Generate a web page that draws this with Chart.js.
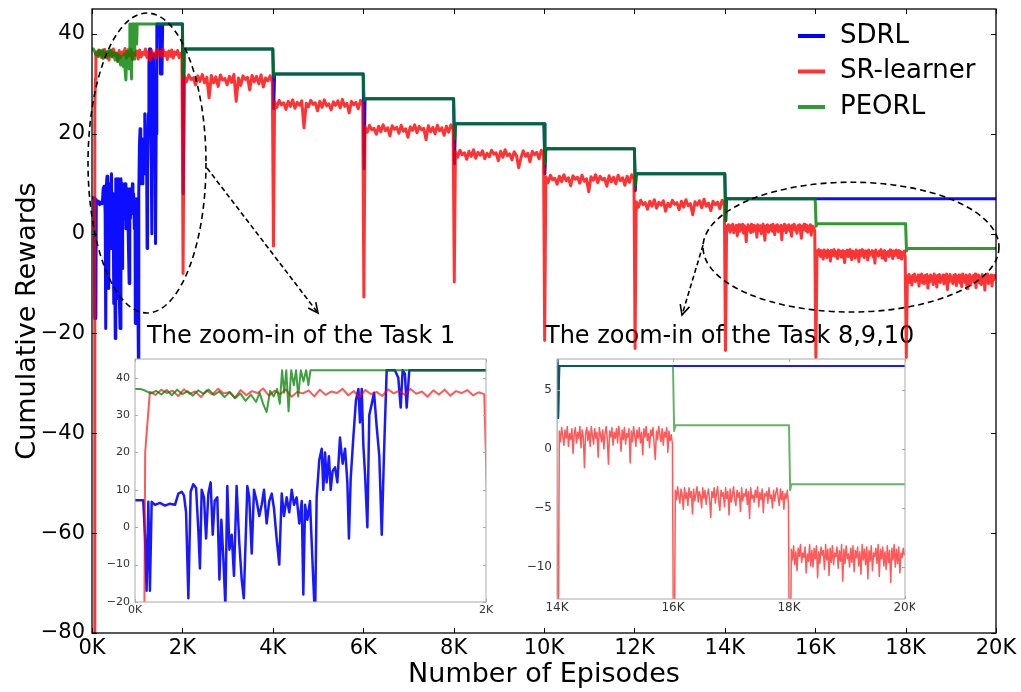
<!DOCTYPE html>
<html>
<head>
<meta charset="utf-8">
<script src="https://cdn.jsdelivr.net/npm/chart.js@4.4.0/dist/chart.umd.min.js"></script>
<style>
  html, body { margin: 0; padding: 0; background: #fff; }
  #wrap { position: relative; width: 1021px; height: 692px; }
  #wrap canvas { position: absolute; }
</style>
</head>
<body>
<div id="wrap">
  <canvas id="main" width="1021" height="692" style="left:0;top:0"></canvas>
  <canvas id="zoom1" width="400" height="265" style="left:95px;top:355px"></canvas>
  <canvas id="zoom2" width="400" height="265" style="left:515px;top:355px"></canvas>
</div>
<script>
var seriesNames = ['SDRL', 'SR-learner', 'PEORL'];

// episodes where task 2..10 start
var taskStarts = [2000, 4000, 6000, 8000, 10000, 12000, 14000, 16000, 18000];

var mainTicksX = [0, 2000, 4000, 6000, 8000, 10000, 12000, 14000, 16000, 18000, 20000];
var mainTicksY = [-80, -60, -40, -20, 0, 20, 40];
var zoom1TicksX = [0, 2000];
var zoom1TicksY = [-20, -10, 0, 10, 20, 30, 40];
var zoom2TicksX = [14000, 16000, 18000, 20000];
var zoom2TicksY = [-10, -5, 0, 5];

// SDRL during task 1 (episode / reward)
var sdrlTask1Ep = [0, 47, 57, 66, 76, 85, 95, 114, 142, 171, 199, 228, 247, 266, 279, 291, 304, 317, 332, 348,
  361, 370, 380, 393, 405, 418, 431, 443, 454, 469, 481, 492, 503, 515, 526, 538, 551, 564, 579, 594,
  608, 620, 640, 651, 665, 678, 693, 708, 722, 735, 750, 765, 779, 792, 807, 822, 836, 849, 864, 879,
  893, 906, 921, 936, 950, 959, 969, 982, 997, 1012, 1026, 1035, 1050, 1064, 1073, 1083, 1092, 1105, 1115, 1126,
  1140, 1153, 1168, 1183, 1197, 1210, 1219, 1229, 1244, 1259, 1273, 1282, 1292, 1301, 1311, 1324, 1335, 1349, 1362, 1377,
  1392, 1406, 1419, 1434, 1453, 1481, 1500, 1514, 1525, 1538, 1548, 1563, 1990];
var sdrlTask1Val = [7.2, 7.2, -2.5, -17, 6.8, -17, 6.8, 6.0, 6.5, 5.8, 6.3, 6.0, 9.0, 9.5, 8.5, 4, -19, 9.5, 11.5, 10.5,
  -1, -11, 10, 8, -3, 9, 12, -2, 7, 8, -14, 2, -8, -21, 11, -6, -2, -13, 11, -4,
  -14, -19, 11, 8, -7, 10, 7, 3, 6, 10, 1, 7, 9, 5, -3, -10, 9, 3, 8, 4,
  10, 6, 8, 1, 7, -18, 6, 2, 7, -10, -25, 8, 18, 21, 10, 20, 12, 19, 10, 15,
  16, 12, 24, 17, 21, 12, -3, 13, 24, 34, 37, 28, 37, 22, 14, 0, 30, 33, 36, 27,
  19, -2, 20, 42, 42, 42, 40, 32, 42, 41, 32, 42, 42];
var sdrlLevels = [37, 32, 27, 22, 17, 12, 7, 7, 7];
var sdrlDips = [8, 25, 13, 14, 12, 8.6, 2.6, 7, 7];

// PEORL during task 1
var peorlTask1Ep = [0, 30, 60, 90, 120, 150, 180, 210, 240, 270, 300, 330, 360, 390, 420, 450, 480, 510, 540, 570,
  600, 630, 660, 690, 710, 730, 750, 770, 790, 810, 825, 838, 850, 862, 875, 890, 905, 918, 930, 945,
  960, 975, 988, 1000, 1990];
var peorlTask1Val = [37, 37, 36.5, 35.8, 36.5, 35.5, 36.7, 35.3, 36.8, 35.6, 36.4, 35.2, 36.6, 35.7, 36.8, 35.4, 36.3, 34.8, 36.2, 34.5,
  35.8, 33.8, 35.5, 33.5, 36, 33, 30.8, 36.5, 35, 37, 33, 42, 36, 42, 31, 42, 38, 42, 35, 42,
  39, 42, 38, 42, 42];
var peorlLevels = [37, 32, 27, 22, 17, 12, 7, 2, -3];
var peorlDips = [31.5, 31.5, 26.6, 19, 14, 9.6, 2.6, 1.5, -3.5];

// SR-learner: first rise, then one noisy run per task, dips at task switches
var srStartEp = [47, 58, 66, 76];
var srStartVal = [-80, 20, 25, 31];
var srTask1 = [36.2, 35.4, 36.8, 35.9, 36.5, 35.1, 36.9, 35.7, 36.3, 34.8, 36.6, 35.5, 37.0, 35.8, 36.1, 34.6, 36.7, 35.3, 36.4, 35.9,
  37.1, 35.2, 36.5, 35.6, 36.9, 34.9, 36.2, 35.8, 36.6, 35.0, 36.8, 35.4, 36.3, 35.9, 37.0, 35.3, 36.4, 34.7, 36.7, 35.6,
  36.2, 35.1, 36.9, 35.8, 36.5, 35.4, 37.0, 35.7, 36.3, 34.9, 36.6, 35.5, 36.8, 35.2, 36.4, 35.9, 36.7, 35.3, 36.1, 35.6];
var srTask2 = [31.5, 30.4, 31.8, 30.9, 31.2, 29.8, 31.6, 30.5, 31.9, 30.2, 31.3, 27.2, 31.7, 30.2, 31.4, 29.5, 31.8, 30.8, 31.1, 29.8,
  31.5, 30.3, 31.9, 26.5, 31.2, 29.7, 31.6, 30.9, 31.3, 28.8, 31.7, 30.4, 31.5, 30.0, 31.8, 29.4, 31.2, 30.6, 31.6, 30.2];
var srTask3 = [26.4, 25.3, 26.7, 25.8, 26.2, 24.9, 26.5, 25.5, 26.8, 25.1, 26.3, 25.7, 26.6, 21.2, 26.1, 25.4, 26.7, 25.9, 26.2, 24.6,
  26.5, 25.3, 26.8, 25.6, 26.0, 24.8, 26.4, 25.7, 26.6, 25.2, 26.9, 25.5, 26.1, 24.2, 26.5, 25.8, 26.3, 25.0, 26.7, 25.6];
var srTask4 = [21.4, 20.3, 21.7, 20.8, 21.1, 19.9, 21.5, 20.4, 21.8, 20.6, 21.2, 19.6, 21.6, 20.9, 21.3, 20.1, 21.7, 20.5, 21.0, 19.3,
  21.4, 20.7, 21.8, 20.2, 21.5, 20.8, 21.1, 18.8, 21.6, 20.4, 21.3, 20.0, 21.7, 20.6, 21.2, 19.7, 21.5, 20.3, 21.8, 20.9];
var srTask5 = [16.4, 15.3, 16.7, 15.8, 16.2, 14.9, 16.5, 15.5, 16.8, 15.1, 16.3, 15.7, 16.6, 15.0, 16.1, 15.4, 16.7, 15.9, 16.2, 14.6,
  16.5, 15.3, 16.8, 15.6, 16.0, 14.8, 16.4, 15.7, 13.2, 15.2, 16.6, 15.5, 16.1, 14.4, 16.5, 15.8, 16.3, 15.0, 16.7, 15.6];
var srTask6 = [11.4, 10.2, 11.7, 10.8, 11.1, 9.9, 11.5, 10.4, 11.8, 10.6, 11.2, 9.6, 11.6, 10.9, 11.3, 10.1, 11.7, 10.5, 11.0, 8.4,
  11.4, 10.7, 11.8, 10.2, 11.5, 10.8, 11.1, 9.5, 11.6, 10.4, 11.3, 10.0, 11.7, 10.6, 11.2, 9.7, 11.5, 10.3, 11.8, 10.9];
var srTask7 = [6.4, 5.3, 6.7, 5.8, 6.2, 4.9, 6.5, 5.5, 6.8, 5.1, 6.3, 5.7, 6.6, 4.5, 6.1, 5.4, 6.7, 5.9, 6.2, 4.8,
  6.5, 5.3, 6.8, 5.6, 6.0, 3.8, 6.4, 5.7, 6.6, 5.2, 6.9, 5.5, 6.1, 4.6, 6.5, 5.8, 6.3, 5.0, 6.7, 5.6];
var srTask8 = [1.5, 0.6, 1.8, 1.1, 0.3, 1.6, 0.9, 1.9, 0.2, 1.3,
  0.8, 1.7, -0.4, 1.2, 1.8, 0.5, 1.4, 0.9, 1.9, 0.1,
  1.6, 1.0, -1.6, 1.3, 1.8, 0.7, 1.5, 0.2, 1.9, 1.1,
  0.4, 1.7, 0.9, 1.4, -0.7, 1.8, 1.2, 0.6, 1.6, 0.0,
  1.3, 1.9, 0.8, -1.3, 1.5, 1.0, 1.8, 0.3, 1.4, 0.9,
  1.7, 0.5, 1.9, 1.2, -0.2, 1.6, 0.8, 1.8, 0.4, 1.3,
  1.0, 1.7, -1.2, 1.5, 0.6, 1.9, 1.1, 0.2, 1.6, 0.9,
  1.8, 0.5, 1.4, -0.5, 1.7, 1.0, 1.9, 0.7, 1.3, 0.1,
  1.6, 1.1, 1.8, 0.4, -0.9, 1.5, 0.8, 1.9, 1.2, 0.6,
  1.7, 0.3, 1.4, 1.0, 1.8, -0.3, 1.5, 0.7, 1.2, 0.4];
var srTask9 = [-3.5, -4.3, -3.2, -4.0, -4.6, -3.4, -3.9, -5.1, -3.3, -4.2,
  -3.7, -4.8, -3.3, -4.1, -3.6, -5.5, -3.4, -4.4, -3.8, -3.2,
  -4.5, -3.6, -4.0, -5.0, -3.3, -4.2, -3.5, -4.7, -3.9, -3.4,
  -4.3, -5.8, -3.6, -4.1, -3.3, -4.6, -3.8, -3.2, -4.4, -5.2,
  -3.5, -4.0, -3.7, -4.9, -3.3, -4.2, -3.6, -5.6, -3.4, -4.5,
  -3.9, -3.2, -4.3, -4.8, -3.5, -4.1, -3.7, -5.3, -3.3, -4.4,
  -3.8, -4.0, -3.4, -4.7, -3.6, -5.9, -3.3, -4.2, -3.9, -4.5,
  -3.5, -4.1, -3.2, -4.9, -3.7, -4.3, -3.4, -5.4, -3.8, -4.0,
  -3.6, -4.6, -3.3, -4.2, -3.9, -5.0, -3.5, -4.4, -3.7, -3.3,
  -4.1, -4.8, -3.4, -4.3, -3.6, -5.1, -3.8, -4.2, -3.5, -4.6];
var srTask10 = [-8.5, -9.4, -8.2, -9.8, -8.7, -10.3, -8.4, -9.1, -8.1, -9.6,
  -8.8, -9.2, -8.3, -10.5, -8.9, -9.5, -8.1, -9.9, -8.6, -10.0,
  -8.4, -9.3, -8.2, -10.9, -8.7, -9.7, -8.3, -9.0, -8.6, -10.2,
  -8.1, -9.4, -8.5, -10.7, -8.4, -9.6, -8.2, -9.8, -8.8, -9.1,
  -8.3, -10.1, -8.6, -9.5, -8.1, -11.2, -8.5, -9.7, -8.2, -9.3,
  -8.9, -10.0, -8.4, -9.6, -8.2, -10.4, -8.6, -9.2, -8.3, -9.9,
  -8.7, -10.6, -8.1, -9.4, -8.5, -9.8, -8.3, -11.0, -8.6, -9.5,
  -8.2, -10.3, -8.8, -9.1, -8.4, -9.7, -8.1, -10.8, -8.5, -9.3,
  -8.3, -9.9, -8.7, -10.2, -8.2, -9.6, -8.6, -11.3, -8.4, -9.4,
  -8.1, -10.0, -8.5, -9.7, -8.3, -10.5, -8.8, -9.2, -8.4, -9.0];
var srDips = [-8, -2.5, -12.7, -9.7, -21.4, -23, -23.4, -24.8, -24.8];

var srTasks = [srTask1, srTask2, srTask3, srTask4, srTask5, srTask6, srTask7, srTask8, srTask9, srTask10];

function stepSeries(ep0, val0, levels, dips) {
  var pts = ep0.map(function(e, i) { return {x: e, y: val0[i]}; });
  var prev = val0[val0.length - 1];
  taskStarts.forEach(function(b, k) {
    pts.push({x: b, y: prev});
    pts.push({x: b + 20, y: dips[k]});
    pts.push({x: b + 40, y: levels[k]});
    prev = levels[k];
  });
  pts.push({x: 20000, y: prev});
  return pts;
}

function srSeries() {
  var pts = srStartEp.map(function(e, i) { return {x: e, y: srStartVal[i]}; });
  srTasks.forEach(function(vals, k) {
    var a = k === 0 ? 85 : taskStarts[k - 1] + 40;
    var b = (k === 0 ? 2000 : taskStarts[k - 1] + 2000) - 10;
    vals.forEach(function(v, i) {
      pts.push({x: a + (b - a) * i / (vals.length - 1), y: v});
    });
    if (k < taskStarts.length) pts.push({x: taskStarts[k] + 15, y: srDips[k]});
  });
  return pts;
}

var sdrlData = stepSeries(sdrlTask1Ep, sdrlTask1Val, sdrlLevels, sdrlDips);
var peorlData = stepSeries(peorlTask1Ep, peorlTask1Val, peorlLevels, peorlDips);
var srData = srSeries();

function buildDatasets(lw, alpha) {
  return [
    {label: seriesNames[0], data: sdrlData, borderColor: 'rgba(0,0,255,' + alpha[0] + ')', borderWidth: lw[0], order: 2},
    {label: seriesNames[1], data: srData, borderColor: 'rgba(255,0,0,' + alpha[1] + ')', borderWidth: lw[1], order: 1},
    {label: seriesNames[2], data: peorlData, borderColor: 'rgba(0,128,0,' + alpha[2] + ')', borderWidth: lw[2], order: 0}
  ];
}

function kLabel(v) { return (v / 1000) + 'K'; }
function numLabel(v) { return v < 0 ? '\u2212' + Math.abs(v) : '' + v; }

function framePlugin(o) {
  return {
    id: 'frame',
    beforeDraw: function(chart) {
      var a = chart.chartArea, ctx = chart.ctx;
      ctx.save();
      ctx.fillStyle = '#fff';
      ctx.fillRect(a.left, a.top, a.right - a.left, a.bottom - a.top);
      ctx.restore();
    },
    afterDatasetsDraw: function(chart) {
      var a = chart.chartArea, ctx = chart.ctx;
      var sx = chart.scales.x, sy = chart.scales.y;
      ctx.save();
      ctx.strokeStyle = o.color;
      ctx.lineWidth = 1;
      ctx.beginPath();
      sx.ticks.forEach(function(t) {
        var px = Math.round(sx.getPixelForValue(t.value)) + 0.5;
        ctx.moveTo(px, a.bottom); ctx.lineTo(px, a.bottom - o.len);
        ctx.moveTo(px, a.top); ctx.lineTo(px, a.top + o.len);
      });
      sy.ticks.forEach(function(t) {
        var py = Math.round(sy.getPixelForValue(t.value)) + 0.5;
        ctx.moveTo(a.left, py); ctx.lineTo(a.left + o.len, py);
        ctx.moveTo(a.right, py); ctx.lineTo(a.right - o.len, py);
      });
      ctx.stroke();
      ctx.lineWidth = o.width;
      ctx.strokeRect(a.left, a.top, a.right - a.left, a.bottom - a.top);
      ctx.restore();
    }
  };
}

function noEdgePadding(s) {
  s.paddingTop = 0; s.paddingBottom = 0; s.paddingLeft = 0; s.paddingRight = 0;
}

function makeChart(id, c) {
  return new Chart(document.getElementById(id), {
    type: 'line',
    data: {datasets: buildDatasets(c.lw, c.alpha)},
    options: {
      responsive: false,
      animation: false,
      events: [],
      layout: {padding: c.pad},
      plugins: {legend: {display: false}, tooltip: {enabled: false}},
      elements: {point: {radius: 0}, line: {tension: 0, borderJoinStyle: 'round', fill: false}},
      scales: {
        x: {
          type: 'linear', min: c.xMin, max: c.xMax,
          grid: {display: false, drawTicks: false}, border: {display: false},
          afterBuildTicks: function(s) { s.ticks = c.xTicks.map(function(v) { return {value: v}; }); },
          afterFit: function(s) { s.height = c.xH; noEdgePadding(s); },
          ticks: {font: {family: 'DejaVu Sans', size: c.fs}, color: c.tickColor, padding: c.xPad,
                  maxRotation: 0, autoSkip: false, callback: function(v) { return kLabel(v); }},
          title: c.xTitle
        },
        y: {
          type: 'linear', min: c.yMin, max: c.yMax,
          grid: {display: false, drawTicks: false}, border: {display: false},
          afterBuildTicks: function(s) { s.ticks = c.yTicks.map(function(v) { return {value: v}; }); },
          afterFit: function(s) { s.width = c.yW; noEdgePadding(s); },
          ticks: {font: {family: 'DejaVu Sans', size: c.fs}, color: c.tickColor, padding: c.yPad,
                  autoSkip: false, callback: function(v) { return numLabel(v); }},
          title: c.yTitle
        }
      }
    },
    plugins: [framePlugin(c.frame)].concat(c.extra || [])
  });
}

// annotation anchors in data units
var zoomTitles = [
  {text: 'The zoom-in of the Task 1', ep: 1217, val: -20.7},
  {text: 'The zoom-in of the Task 8,9,10', ep: 10022, val: -20.7}
];
var zoomRings = [
  {ep: 1217, val: 14.15, rEp: 1305, rVal: 30.05},
  {ep: 16792, val: -2.7, rEp: 3274, rVal: 13.0}
];
var zoomArrows = [
  {ep0: 2544, val0: 13.15, ep1: 5000, val1: -15.9},
  {ep0: 13518, val0: -2.3, ep1: 13053, val1: -16.3}
];
var legendColors = ['#0000ff', '#ff3333', '#339933'];

var notes = {
  id: 'notes',
  beforeDatasetsDraw: function(chart) {
    var sx = chart.scales.x, sy = chart.scales.y, ctx = chart.ctx;
    ctx.save();
    ctx.font = '24px "DejaVu Sans"';
    ctx.fillStyle = '#000';
    ctx.textBaseline = 'middle';
    zoomTitles.forEach(function(t) {
      ctx.fillText(t.text, sx.getPixelForValue(t.ep), sy.getPixelForValue(t.val));
    });
    ctx.restore();
  },
  afterDatasetsDraw: function(chart) {
    var sx = chart.scales.x, sy = chart.scales.y, ctx = chart.ctx, a = chart.chartArea;
    ctx.save();
    ctx.strokeStyle = '#000';
    ctx.lineWidth = 1.6;
    ctx.setLineDash([6, 4]);
    zoomRings.forEach(function(r) {
      var cx = sx.getPixelForValue(r.ep), cy = sy.getPixelForValue(r.val);
      var rx = sx.getPixelForValue(r.ep + r.rEp) - cx, ry = cy - sy.getPixelForValue(r.val + r.rVal);
      ctx.beginPath();
      ctx.ellipse(cx, cy, rx, ry, 0, 0, Math.PI * 2);
      ctx.stroke();
    });
    zoomArrows.forEach(function(w) {
      var x0 = sx.getPixelForValue(w.ep0), y0 = sy.getPixelForValue(w.val0);
      var x1 = sx.getPixelForValue(w.ep1), y1 = sy.getPixelForValue(w.val1);
      ctx.setLineDash([5, 3]);
      ctx.beginPath(); ctx.moveTo(x0, y0); ctx.lineTo(x1, y1); ctx.stroke();
      var ang = Math.atan2(y1 - y0, x1 - x0);
      ctx.setLineDash([]);
      ctx.beginPath();
      ctx.moveTo(x1 - 11 * Math.cos(ang - 0.45), y1 - 11 * Math.sin(ang - 0.45));
      ctx.lineTo(x1, y1);
      ctx.lineTo(x1 - 11 * Math.cos(ang + 0.45), y1 - 11 * Math.sin(ang + 0.45));
      ctx.stroke();
    });
    // legend
    ctx.setLineDash([]);
    ctx.font = '26px "DejaVu Sans"';
    ctx.textBaseline = 'middle';
    ctx.fillStyle = '#000';
    seriesNames.forEach(function(n, i) {
      var yy = a.top + 27 + i * 35.5;
      ctx.strokeStyle = legendColors[i];
      ctx.lineWidth = 4;
      ctx.beginPath(); ctx.moveTo(a.right - 198, yy); ctx.lineTo(a.right - 171, yy); ctx.stroke();
      ctx.fillText(n, a.right - 156, yy);
    });
    ctx.restore();
  }
};

makeChart('main', {
  lw: [3, 3, 3], alpha: [0.95, 0.8, 0.8],
  pad: {top: 9, right: 25, left: 0, bottom: 0},
  xMin: 0, xMax: 20000, yMin: -80, yMax: 45,
  xTicks: mainTicksX, yTicks: mainTicksY,
  xH: 59, yW: 92, fs: 21, tickColor: '#000', xPad: 3, yPad: 7,
  xTitle: {display: true, text: 'Number of Episodes', color: '#000',
           font: {family: 'DejaVu Sans', size: 27}, padding: {top: 0, bottom: 1}},
  yTitle: {display: true, text: 'Cumulative Rewards', color: '#000',
           font: {family: 'DejaVu Sans', size: 27}, padding: {top: 12, bottom: 0}},
  frame: {color: '#000', width: 1.3, len: 5},
  extra: [notes]
});

makeChart('zoom1', {
  lw: [2.5, 2, 2], alpha: [0.9, 0.65, 0.75],
  pad: {top: 4, right: 9, left: 0, bottom: 0},
  xMin: 0, xMax: 2000, yMin: -20, yMax: 45,
  xTicks: zoom1TicksX, yTicks: zoom1TicksY,
  xH: 18, yW: 40, fs: 11, tickColor: '#333', xPad: 2, yPad: 5,
  xTitle: {display: false}, yTitle: {display: false},
  frame: {color: '#aaa', width: 1, len: 3}
});

makeChart('zoom2', {
  lw: [2, 1.5, 2], alpha: [0.9, 0.65, 0.6],
  pad: {top: 4, right: 10, left: 0, bottom: 0},
  xMin: 14000, xMax: 20000, yMin: -12.7, yMax: 7.6,
  xTicks: zoom2TicksX, yTicks: zoom2TicksY,
  xH: 21, yW: 42, fs: 12, tickColor: '#333', xPad: 2, yPad: 5,
  xTitle: {display: false}, yTitle: {display: false},
  frame: {color: '#aaa', width: 1, len: 3}
});
</script>
</body>
</html>
